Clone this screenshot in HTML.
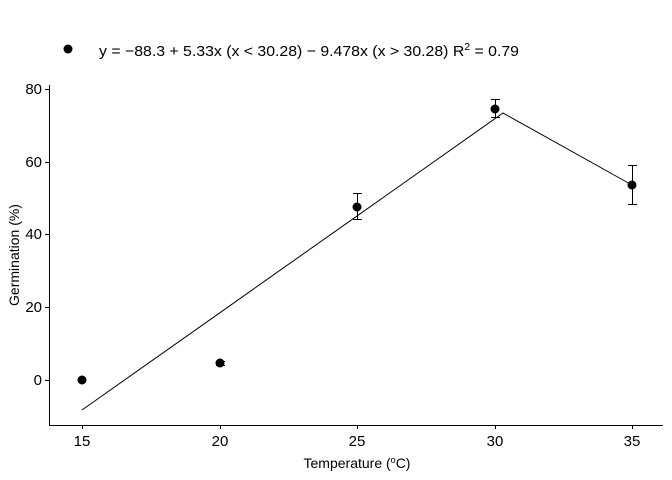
<!DOCTYPE html>
<html><head><style>body{margin:0;background:#fff}svg{display:block}text{font-family:"Liberation Sans",sans-serif}</style></head><body>
<svg width="672" height="480" viewBox="0 0 672 480">
<rect width="672" height="480" fill="#fff"/>
<circle cx="68" cy="49" r="4.5" fill="#000"/>
<text x="99" y="56" font-size="15" textLength="420" lengthAdjust="spacingAndGlyphs">y = −88.3 + 5.33x (x &lt; 30.28) − 9.478x (x &gt; 30.28)   R<tspan dy="-6" font-size="10">2</tspan><tspan dy="6"> = 0.79</tspan></text>
<g stroke="#000" fill="none" stroke-width="1">
<path d="M49.5 85V425.5H663"/>
<path d="M45 380.5h4.5M45 307.5h4.5M45 234.5h4.5M45 162.5h4.5M45 89.5h4.5"/>
<path d="M82.5 425v4M220.5 425v4M357.5 425v4M495.5 425v4M632.5 425v4"/>
<polyline points="82,410 503,113 632,185"/>
<path d="M220.5 361v5M216 361.5h9M216 365.5h9M357.5 193v27M353 193.5h9M353 219.5h9M495.5 99v19M491 99.5h9M491 117.5h9M632.5 165v40M628 165.5h9M628 204.5h9"/>
</g>
<g fill="#000"><circle cx="82" cy="380" r="4.5"/><circle cx="220" cy="363" r="4.5"/><circle cx="357" cy="207" r="4.5"/><circle cx="495" cy="109" r="4.5"/><circle cx="632" cy="185" r="4.5"/></g>
<g font-size="15" text-anchor="end" fill="#000"><text x="42" y="385">0</text><text x="42" y="312">20</text><text x="42" y="239">40</text><text x="42" y="167">60</text><text x="42" y="94">80</text></g>
<g font-size="15" text-anchor="middle" fill="#000"><text x="82" y="446">15</text><text x="220" y="446">20</text><text x="357" y="446">25</text><text x="495" y="446">30</text><text x="632" y="446">35</text>
<text x="357" y="468" font-size="14">Temperature (<tspan dy="-5" font-size="9">o</tspan><tspan dy="5">C)</tspan></text></g>
<text transform="translate(19,255) rotate(-90)" font-size="14" text-anchor="middle">Germination (%)</text>
</svg></body></html>
